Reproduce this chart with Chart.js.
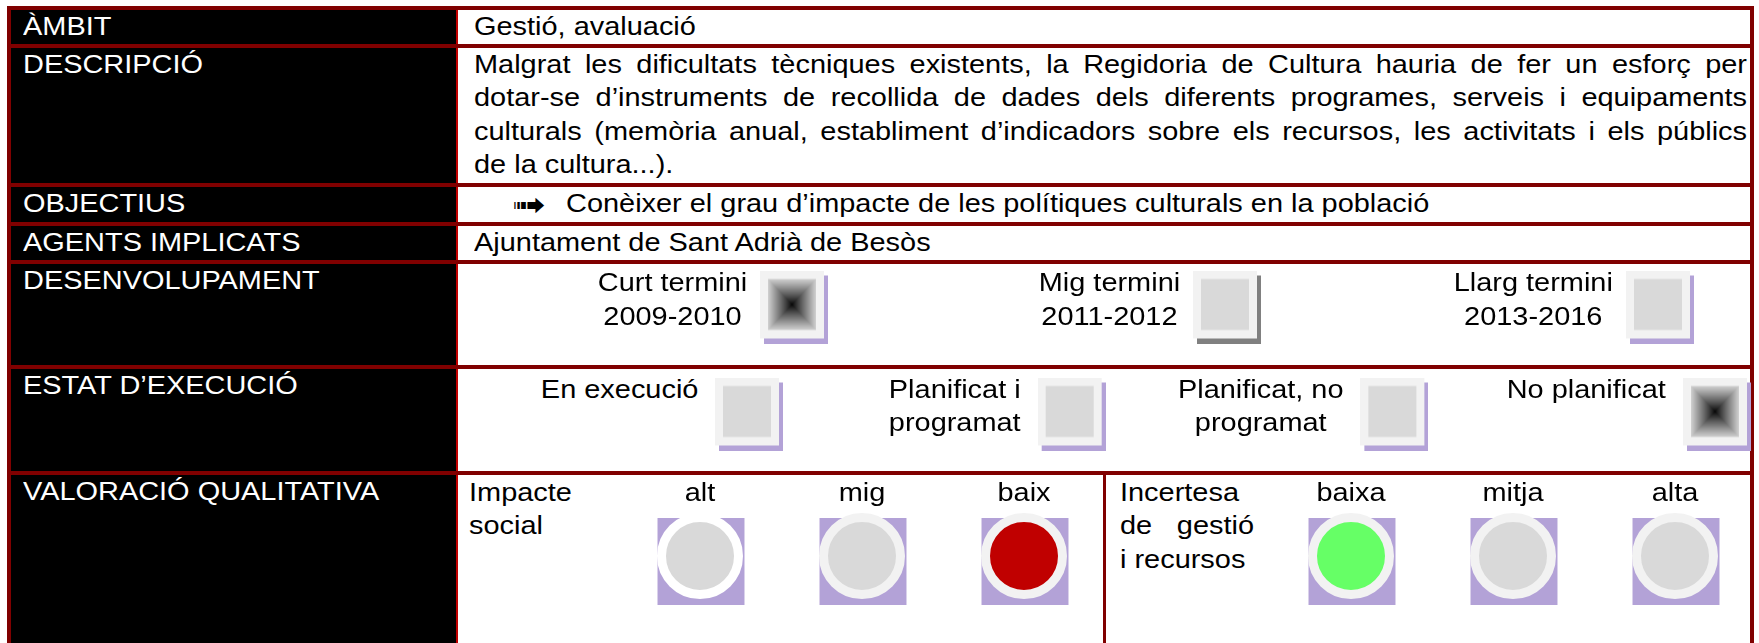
<!DOCTYPE html>
<html>
<head>
<meta charset="utf-8">
<script src="https://cdn.jsdelivr.net/npm/chart.js@4.4.0/dist/chart.umd.min.js"></script>
<style>
html, body { margin: 0; padding: 0; background: #fff; overflow: hidden; }
#page { position: relative; width: 1759px; height: 643px; font-family: "Liberation Sans", Arial, sans-serif; font-size: 25.6px; line-height: 33.4px; color: #000; }
.box { position: absolute; }
.t { position: absolute; white-space: nowrap; transform: scaleX(1.13); transform-origin: left top; }
.w { color: #fff; }
canvas { position: absolute; }
</style>
</head>
<body>
<div id="page"></div>
<script>
// fitxa: text de cada fila
const rowLabels = ['ÀMBIT', 'DESCRIPCIÓ', 'OBJECTIUS', 'AGENTS IMPLICATS', 'DESENVOLUPAMENT', 'ESTAT D’EXECUCIÓ', 'VALORACIÓ QUALITATIVA']
const ambit = 'Gestió, avaluació'
const descripcio = [
    'Malgrat les dificultats tècniques existents, la Regidoria de Cultura hauria de fer un esforç per',
    'dotar-se d’instruments de recollida de dades dels diferents programes, serveis i equipaments',
    'culturals (memòria anual, establiment d’indicadors sobre els recursos, les activitats i els públics',
    'de la cultura...).'
]
const objectius = ['Conèixer el grau d’impacte de les polítiques culturals en la població']
const agents = 'Ajuntament de Sant Adrià de Besòs'

// caselles
const terminis = [['Curt termini', '2009-2010'], ['Mig termini', '2011-2012'], ['Llarg termini', '2013-2016']]
const terminiMarcat = [1, 0, 0]
const terminiOmbra = ['#b3a2d7', '#808080', '#b3a2d7']
const estats = [['En execució'], ['Planificat i', 'programat'], ['Planificat, no', 'programat'], ['No planificat']]
const estatMarcat = [0, 0, 0, 1]
const estatOmbra = ['#b3a2d7', '#b3a2d7', '#b3a2d7', '#b3a2d7']

// semàfors
const impacteTitol = ['Impacte', 'social']
const impacteNivells = ['alt', 'mig', 'baix']
const impacteColors = ['#d9d9d9', '#d9d9d9', '#c00000']
const impacteAnell = ['#ffffff', '#f2f2f2', '#f2f2f2']
const incertesaTitol = ['Incertesa', 'de gestió', 'i recursos']
const incertesaNivells = ['baixa', 'mitja', 'alta']
const incertesaColors = ['#66ff66', '#d9d9d9', '#d9d9d9']
const incertesaAnell = ['#f2f2f2', '#f2f2f2', '#f2f2f2']

const page = document.getElementById('page')
const K = 1.13

function rect(x, y, w, h, color) {
    const d = document.createElement('div')
    d.className = 'box'
    d.style.cssText = `left:${x}px;top:${y}px;width:${w}px;height:${h}px;background:${color}`
    page.appendChild(d)
}

function text(lines, x, y, cls) {
    const d = document.createElement('div')
    d.className = 't' + (cls ? ' ' + cls : '')
    lines.forEach((l, i) => {
        if (i) d.appendChild(document.createElement('br'))
        d.appendChild(document.createTextNode(l))
    })
    d.style.left = x + 'px'
    d.style.top = y + 'px'
    page.appendChild(d)
    return d
}

// fons i vores
const lineTops = [6, 44, 183, 222, 260, 365, 471]
rect(11, 6, 445, 637, '#000')
rect(456, 10, 2, 633, '#c00000')
rect(7, 6, 4, 637, '#800000')
rect(1750, 6, 4, 637, '#800000')
lineTops.forEach(y => rect(7, y, 1747, 4, '#800000'))
rect(1103, 475, 3, 168, '#800000')

// etiquetes de la columna esquerra
const rowTops = lineTops.map(y => y + 4)
rowLabels.forEach((l, i) => text([l], 23, rowTops[i], 'w'))

// columna dreta
text([ambit], 474, rowTops[0])
descripcio.forEach((l, i) => {
    const d = text([l], 474, rowTops[1] + i * 33.4)
    if (i < descripcio.length - 1) {
        d.style.whiteSpace = 'normal'
        d.style.width = (1273 / K) + 'px'
        d.style.textAlign = 'justify'
        d.style.textAlignLast = 'justify'
    }
})
const arrow = text(['➟'], 512, rowTops[2] + 1)
arrow.style.fontFamily = '"DejaVu Sans"'
arrow.style.fontSize = '36px'
text(objectius, 566, rowTops[2])
text([agents], 474, rowTops[3])

text(impacteTitol, 469, rowTops[6] + 1)
incertesaTitol.forEach((l, i) => {
    const d = text([l], 1120, rowTops[6] + 1 + i * 33.4)
    if (i === 1) {
        d.style.whiteSpace = 'normal'
        d.style.width = (134 / K) + 'px'
        d.style.textAlign = 'justify'
        d.style.textAlignLast = 'justify'
    }
})

// casella (quadre amb ombra)
function casella(marcat, ombra) {
    const c = document.createElement('canvas')
    c.width = 68
    c.height = 73
    const g = c.getContext('2d')
    g.fillStyle = ombra
    g.fillRect(4, 5, 64, 68)
    g.fillStyle = '#f2f2f2'
    g.fillRect(0, 0, 64, 68)
    if (marcat) {
        const n = 24
        for (let i = 0; i < n; i++) {
            const v = Math.round(205 * Math.pow(1 - i / n, 0.9))
            g.fillStyle = `rgb(${v},${v},${v})`
            const dx = i, dy = i * 51 / 48
            g.fillRect(8 + dx, 8.5 + dy, 48 - 2 * dx, 51 - 2 * dy)
        }
    } else {
        g.fillStyle = '#d9d9d9'
        g.fillRect(8, 8.5, 48, 51)
    }
    return c
}

const base = {
    responsive: false,
    animation: false,
    devicePixelRatio: 1,
    events: [],
    plugins: { legend: { display: false }, tooltip: { enabled: false } },
    scales: { x: { display: false }, y: { display: false, min: -1, max: 1 } }
}

function makeCanvas(left, top, width, height) {
    const cv = document.createElement('canvas')
    cv.width = width
    cv.height = height
    cv.style.left = left + 'px'
    cv.style.top = top + 'px'
    page.appendChild(cv)
    return cv
}

function caselles(left, top, width, height, pad, labels, marcat, ombres, gap, textTop) {
    const cv = makeCanvas(left, top, width, height)
    const chart = new Chart(cv, {
        type: 'line',
        data: {
            labels: labels.map(l => l.join(' ')),
            datasets: [{
                data: labels.map(() => 0),
                showLine: false,
                clip: false,
                pointRadius: 34,
                pointStyle: labels.map((l, i) => casella(marcat[i], ombres[i]))
            }]
        },
        options: { ...base, layout: { autoPadding: false, padding: { left: pad, right: pad, top: 0, bottom: 0 } } }
    })
    labels.forEach((l, i) => {
        const px = left + chart.scales.x.getPixelForValue(i)
        const d = text(l, 0, textTop)
        d.style.left = 'auto'
        d.style.right = (1759 - (px - 34 - gap)) + 'px'
        d.style.textAlign = 'center'
        d.style.transformOrigin = 'right top'
    })
    return chart
}

// shift the purple backing a little down/right, like a drop shadow
const ombraPlugin = {
    id: 'ombra',
    beforeDatasetDraw(chart, args) {
        if (args.index === 1) { chart.ctx.save(); chart.ctx.translate(1, 5.5) }
    },
    afterDatasetDraw(chart, args) {
        if (args.index === 1) chart.ctx.restore()
    }
}

function semafor(left, top, width, nivells, colors, anells) {
    const cv = makeCanvas(left, top, width, 112)
    const chart = new Chart(cv, {
        type: 'line',
        data: {
            labels: nivells,
            datasets: [{
                data: nivells.map(() => 0),
                showLine: false,
                clip: false,
                pointStyle: 'circle',
                pointRadius: 38.5,
                pointBackgroundColor: colors,
                pointBorderColor: anells,
                pointBorderWidth: 9
            }, {
                data: nivells.map(() => 0),
                showLine: false,
                clip: false,
                pointStyle: 'rect',
                pointRadius: 61.5,
                pointBackgroundColor: '#b3a2d7',
                pointBorderWidth: 0
            }]
        },
        options: { ...base, layout: { autoPadding: false, padding: { left: 60, right: 60, top: 0, bottom: 0 } } },
        plugins: [ombraPlugin]
    })
    nivells.forEach((n, i) => {
        const px = left + chart.scales.x.getPixelForValue(i)
        const d = text([n], 0, rowTops[6] + 1)
        d.style.left = (px - 100) + 'px'
        d.style.width = '200px'
        d.style.textAlign = 'center'
        d.style.transformOrigin = 'center top'
    })
    return chart
}

caselles(744, 262, 966, 90, 50, terminis, terminiMarcat, terminiOmbra, 13, 266.4)
caselles(709, 372, 1048, 84, 40, estats, estatMarcat, estatOmbra, 17, 373)
semafor(640, 500, 444, impacteNivells, impacteColors, impacteAnell)
semafor(1291, 500, 444, incertesaNivells, incertesaColors, incertesaAnell)
</script>
</body>
</html>
